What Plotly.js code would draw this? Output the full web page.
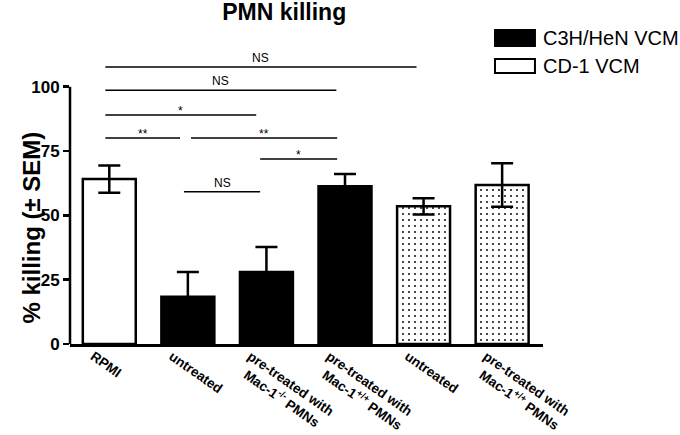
<!DOCTYPE html>
<html>
<head>
<meta charset="utf-8">
<script src="https://cdn.plot.ly/plotly-3.0.1.min.js"></script>
<style>
  html, body { margin: 0; padding: 0; background: #fff; }
  #plot { width: 680px; height: 435px; }
</style>
</head>
<body>
<div id="plot"></div>
<script>
// group labels along the x axis
var groupLabels = [
  'RPMI',
  'untreated',
  'pre-treated with<br>&nbsp;&nbsp;Mac-1<sup>-/-</sup> PMNs',
  'pre-treated with<br>&nbsp;&nbsp;Mac-1<sup>+/+</sup> PMNs',
  'untreated',
  'pre-treated with<br>&nbsp;&nbsp;Mac-1<sup>+/+</sup> PMNs'
];
var groupPos = [0, 1, 2, 3, 4, 5];

// % killing, mean and SEM
var rpmiX = [0];
var rpmiY = [64.1];
var rpmiErr = [5.3];

var c3hX = [1, 2, 3];
var c3hY = [18.4, 28.0, 61.3];
var c3hErr = [9.6, 9.7, 4.8];

var cd1X = [4, 5];
var cd1Y = [53.5, 61.8];
var cd1Err = [3.2, 8.5];

var yTicks = [0, 25, 50, 75, 100];

// significance brackets (x in group units, y in % killing)
var sigX0 = [-0.05, -0.05, -0.05, -0.05, 1.04, 1.92, 0.95];
var sigX1 = [3.91, 2.89, 1.87, 0.90, 2.90, 2.90, 1.92];
var sigY = [107.7, 98.6, 89.0, 80.1, 80.1, 71.9, 59.2];
var sigText = ['NS', 'NS', '*', '**', '**', '*', 'NS'];

var FONT = 'Liberation Sans, Arial, sans-serif';
var LW = 2.5;

function barTrace(name, x, y, err, marker) {
  return {
    type: 'bar',
    name: name,
    x: x,
    y: y,
    marker: marker,
    error_y: {type: 'data', array: err, visible: true, color: '#000', thickness: LW, width: 11},
    showlegend: false,
    hoverinfo: 'skip'
  };
}

var data = [
  barTrace('RPMI', rpmiX, rpmiY, rpmiErr,
    {color: '#fff', line: {color: '#000', width: LW}}),
  barTrace('C3H/HeN VCM', c3hX, c3hY, c3hErr,
    {color: '#000', line: {color: '#000', width: LW}}),
  barTrace('CD-1 VCM', cd1X, cd1Y, cd1Err,
    {color: '#fff', line: {color: '#000', width: LW},
     pattern: {shape: '.', fgcolor: '#000', bgcolor: '#fff', size: 6, solidity: 0.08}})
];

var shapes = [
  // y axis line, only up to 100
  {type: 'line', xref: 'paper', yref: 'y', x0: 0, x1: 0, y0: 0, y1: 100,
   line: {color: '#000', width: LW}},
  // legend swatches
  {type: 'rect', xref: 'paper', yref: 'paper', x0: 0.8985, x1: 0.983, y0: 1.053, y1: 1.1095,
   fillcolor: '#000', line: {color: '#000', width: 2}},
  {type: 'rect', xref: 'paper', yref: 'paper', x0: 0.8985, x1: 0.983, y0: 0.958, y1: 1.007,
   fillcolor: '#fff', line: {color: '#000', width: 2}}
];

var annotations = [
  {xref: 'paper', yref: 'paper', x: -0.114, y: 0.41, textangle: -90,
   text: '<b>% killing (± SEM)</b>', showarrow: false,
   font: {family: FONT, size: 24, color: '#000'}},
  {xref: 'paper', yref: 'paper', x: 0.995, y: 1.081, xanchor: 'left', yanchor: 'middle',
   text: 'C3H/HeN VCM', showarrow: false, font: {family: FONT, size: 20, color: '#000'}},
  {xref: 'paper', yref: 'paper', x: 0.995, y: 0.982, xanchor: 'left', yanchor: 'middle',
   text: 'CD-1 VCM', showarrow: false, font: {family: FONT, size: 20, color: '#000'}}
];

for (var i = 0; i < sigText.length; i++) {
  shapes.push({type: 'line', xref: 'x', yref: 'y',
    x0: sigX0[i], x1: sigX1[i], y0: sigY[i], y1: sigY[i],
    line: {color: '#000', width: 1.5}});
  annotations.push({xref: 'x', yref: 'y',
    x: (sigX0[i] + sigX1[i]) / 2, y: sigY[i],
    yanchor: 'bottom', yshift: sigText[i] === 'NS' ? 0 : -5,
    text: sigText[i], showarrow: false,
    font: {family: FONT, size: 12, color: '#000'}});
}

var layout = {
  width: 680,
  height: 435,
  margin: {l: 70, r: 137, t: 61, b: 91},
  paper_bgcolor: '#fff',
  plot_bgcolor: '#fff',
  barmode: 'overlay',
  bargap: 0.326,
  title: {text: '<b>PMN killing</b>', x: 0.418, xanchor: 'center',
          y: 0.972, yanchor: 'middle', yref: 'container',
          font: {family: FONT, size: 23, color: '#000'}},
  xaxis: {
    range: [-0.5, 5.52],
    tickvals: groupPos,
    ticktext: groupLabels,
    tickangle: 35,
    ticklabelshift: -16,
    ticklabelstandoff: -3,
    ticks: '',
    showline: true,
    linecolor: '#000',
    linewidth: LW,
    showgrid: false,
    zeroline: false,
    tickfont: {family: FONT, size: 13.5, color: '#000', weight: 'bold'}
  },
  yaxis: {
    range: [0, 110],
    tickvals: yTicks,
    ticks: 'outside',
    ticklen: 6,
    tickwidth: LW,
    tickcolor: '#000',
    showline: false,
    showgrid: false,
    zeroline: false,
    tickfont: {family: FONT, size: 17, color: '#000', weight: 'bold'}
  },
  shapes: shapes,
  annotations: annotations
};

Plotly.newPlot('plot', data, layout, {displayModeBar: false, staticPlot: true});
</script>
</body>
</html>
